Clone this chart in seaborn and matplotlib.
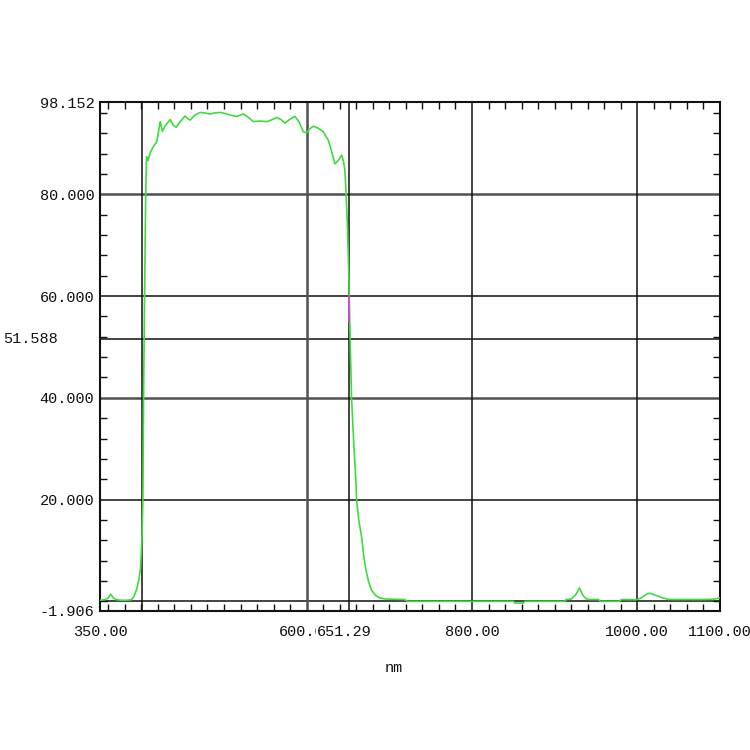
import numpy as np
import pandas as pd
import seaborn as sns
import matplotlib
matplotlib.use("Agg")
import matplotlib.pyplot as plt
from matplotlib.ticker import FixedLocator

# wavelength (nm) and transmittance (%)
wavelength = [350, 356, 360, 363, 366, 370, 376, 382, 388, 391, 394, 397, 399,
              400.7, 401.9, 402.7, 403.9, 405.3, 406.3, 408, 411, 414.7, 418.8,
              422.8, 425.5, 429, 434.9, 438.5, 442.1, 447, 453, 456, 459, 465,
              471, 477, 483, 489, 495.3, 501, 507.4, 515.4, 523.4, 529, 535.5,
              543, 551.7, 557, 563.8, 569, 573.8, 580, 585.9, 591, 595.9, 600,
              604, 608, 614, 620, 626, 630, 634.2, 638, 642.3, 644.5, 646.2,
              647.5, 649.5, 651, 652, 652.8, 654.3, 657, 659.5, 660.4, 663,
              666.4, 669, 671.6, 675, 678.5, 683, 688.5, 695, 705, 718, 722,
              740, 780, 820, 850, 852, 862, 864, 900, 912, 914, 920, 925, 930,
              934, 938, 942, 953, 955, 978, 981, 999, 1005, 1010, 1015, 1022,
              1030, 1037, 1043, 1060, 1080, 1092, 1100]
transmit = [0.2, 0.3, 0.7, 1.4, 0.7, 0.3, 0.2, 0.2, 0.3, 0.9, 2.2, 4.2, 6.5,
            12, 20, 40, 60, 80, 87.4, 86.6, 88.3, 89.4, 90.4,
            94.3, 92.4, 93.5, 94.7, 93.6, 93.2, 94.3, 95.4, 94.9, 94.6, 95.6,
            96.1, 96.0, 95.8, 96.0, 96.1, 95.9, 95.6, 95.3, 95.8, 95.2, 94.3,
            94.4, 94.3, 94.6, 95.1, 94.7, 94.0, 94.8, 95.3, 94.2, 92.3, 92.1,
            92.9, 93.4, 93.0, 92.3, 90.7, 88.5, 86.0, 86.6, 87.7, 86.5, 84.8,
            80.9, 73, 64, 56, 50, 40, 31, 23.8, 20, 16,
            12.7, 9, 6.2, 3.8, 2.2, 1.2, 0.65, 0.45, 0.4, 0.35, 0.0,
            0.0, 0.0, 0.0, 0.0, -0.35, -0.35, 0.0, 0.0, 0.0, 0.35, 0.45, 1.2, 2.6,
            1.2, 0.5, 0.35, 0.35, 0.0, 0.0, 0.35, 0.3, 0.7, 1.3, 1.6, 1.2,
            0.7, 0.4, 0.35, 0.35, 0.35, 0.4, 0.7]

x_ticks = [350, 600, 800, 1000, 1100]
x_labels = ["350.00", "600.00", "800.00", "1000.00", "1100.00"]
y_ticks = [-1.906, 20, 40, 60, 80, 98.152]
y_labels = ["-1.906", "20.000", "40.000", "60.000", "80.000", "98.152"]
grid_h = [0, 20, 40, 60, 80]
grid_v = [401, 800, 1000]
cursor_x = 651.29
cursor_y = 51.588

df = pd.DataFrame({"nm": wavelength, "T": transmit})

sns.set_style("white")
plt.rcParams["font.family"] = ["Liberation Mono", "DejaVu Sans"]

fig = plt.figure(figsize=(7.5, 7.5), dpi=100)
ax = fig.add_axes([100 / 750, 1 - 611 / 750, 620 / 750, 509 / 750])

for v in grid_h:
    c, lw = ("#505050", 1.8) if v in (40, 80) else ("#111111", 1.1)
    ax.axhline(v, color=c, lw=lw, zorder=1)
ax.axhline(cursor_y, color="#111111", lw=1.1, zorder=1)
for v in grid_v:
    ax.axvline(v, color="#111111", lw=1.1, zorder=1)
ax.axvline(600, color="#505050", lw=1.8, zorder=1)
ax.axvline(cursor_x, color="#111111", lw=1.1, zorder=1)

sns.lineplot(data=df, x="nm", y="T", color="#3cdc3c", lw=1.2,
             estimator=None, sort=False, ax=ax, zorder=3)
ax.plot([cursor_x, cursor_x], [55, 60], color="#e040e0", lw=1.2, zorder=4)

ax.set_xlim(350, 1100)
ax.set_ylim(-1.906, 98.152)
ax.set_xticks(x_ticks)
ax.set_xticklabels(x_labels)
ax.set_yticks(y_ticks)
ax.set_yticklabels(y_labels)
ax.xaxis.set_minor_locator(FixedLocator(np.arange(360, 1100, 20)))
ax.yaxis.set_minor_locator(FixedLocator(np.arange(0, 98, 4)))
ax.tick_params(which="major", length=0, labelsize=11, colors="#111111")
ax.tick_params(axis="x", which="major", pad=10)
ax.tick_params(axis="y", which="major", pad=4)
ax.tick_params(which="minor", direction="in", length=5, width=1,
               color="#111111", top=True, right=True, bottom=True, left=True)
for s in ax.spines.values():
    s.set_color("#111111")
    s.set_linewidth(1.5)
ax.set_xlabel("")
ax.set_ylabel("")

ax.text(-42 / 620, cursor_y, "51.588", transform=ax.get_yaxis_transform(),
        ha="right", va="center", fontsize=11, color="#111111")
ax.annotate("651.29", xy=(cursor_x, 0), xycoords=("data", "axes fraction"),
            xytext=(-5, -21), textcoords="offset pixels", ha="center",
            va="center", fontsize=11, color="#111111",
            bbox=dict(facecolor="white", edgecolor="none", pad=0.5))
fig.text(394 / 750, 1 - 668 / 750, "nm", ha="center", va="center",
         fontsize=11, color="#111111")

fig.savefig("out.png", dpi=100, facecolor="white")
